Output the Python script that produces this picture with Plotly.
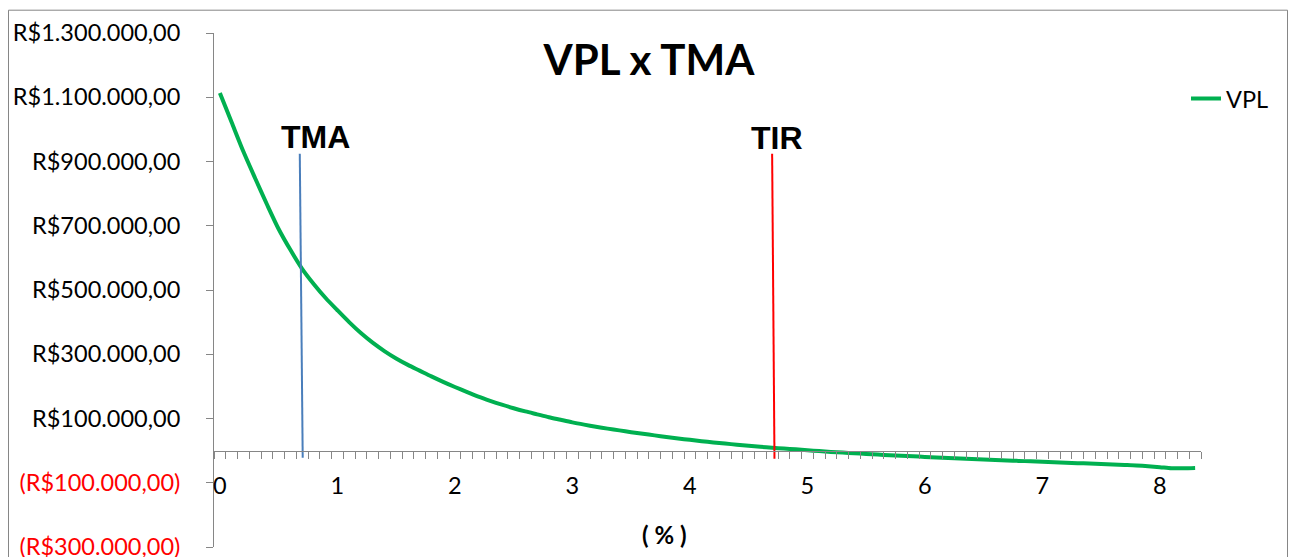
import plotly.graph_objects as go

# Taxa de desconto (% a.a.), passo de 0,1
taxa_pct = [round(i * 0.1, 1) for i in range(84)]

# VPL em R$ para cada taxa
vpl = [
    1113000, 1022000, 931000, 848000, 767000, 690000, 625000, 566000, 518000, 475000,
    437000, 400000, 366000, 336000, 310000, 287000, 267000, 249000, 231000, 214000,
    198000, 183000, 168000, 155000, 143000, 132000, 122000, 113000, 104000, 96000,
    88000, 81000, 74500, 68500, 63000, 57500, 52500, 47500, 42500, 38000,
    33500, 29500, 25500, 22000, 18500, 15000, 12000, 9000, 6500, 4000,
    1000, -1500, -4000, -6200, -8300, -10300, -12300, -14200, -16000, -17800,
    -19500, -21200, -22800, -24400, -26000, -27500, -29000, -30500, -32000, -33400,
    -34800, -36200, -37600, -39000, -40300, -41600, -43000, -44400, -46000, -48500,
    -51500, -55000, -55000, -54000,
]

# Marcadores verticais de TMA e TIR
tma_x = [0.68, 0.705]
tma_y = [924000, -22000]
tir_x = [4.70, 4.72]
tir_y = [924000, -25000]

x_ticks = list(range(9))
y_ticks = list(range(-300000, 1300001, 200000))
y_min, y_max = -300000, 1300000


def brl(v):
    s = f"{abs(v):,.2f}".replace(",", "#").replace(".", ",").replace("#", ".")
    if v < 0:
        return f'<span style="color:#FF0000">(R${s})</span>'
    return f"R${s}"


grey = "#868686"
font_main = "Lato"
tick_size = 23.5

fig = go.Figure()
fig.add_trace(go.Scatter(
    x=taxa_pct, y=vpl, mode="lines", name="VPL",
    line=dict(color="#00B050", width=4, shape="spline", smoothing=0.8),
))
fig.add_trace(go.Scatter(
    x=tma_x, y=tma_y, mode="lines", showlegend=False,
    line=dict(color="#4A7EBB", width=2),
))
fig.add_trace(go.Scatter(
    x=tir_x, y=tir_y, mode="lines", showlegend=False,
    line=dict(color="#FF0000", width=2),
))

# divisões entre categorias no eixo X
boundaries = [t - 0.05 for t in taxa_pct] + [taxa_pct[-1] + 0.05]

fig.update_layout(
    width=1294, height=557,
    margin=dict(l=214, r=93, t=33, b=10, autoexpand=False),
    paper_bgcolor="white", plot_bgcolor="white",
    font=dict(family=font_main, size=tick_size, color="black"),
    title=dict(
        text="<b>VPL x TMA</b>", x=0.5015, xanchor="center",
        y=1 - 60 / 557, yanchor="middle",
        font=dict(family=font_main, size=42, color="black"),
    ),
    xaxis=dict(
        range=[-0.05, 8.35], anchor="free", automargin=False,
        position=(0 - y_min) / (y_max - y_min),
        showline=True, linecolor=grey, linewidth=1,
        tickvals=x_ticks, ticktext=[str(t) for t in x_ticks],
        ticks="", ticklabelstandoff=14,
        minor=dict(tickvals=boundaries, ticks="outside", ticklen=7,
                   tickcolor=grey, tickwidth=1),
        showgrid=False, zeroline=False,
        tickfont=dict(family=font_main, size=tick_size, color="black"),
    ),
    yaxis=dict(
        range=[y_min, y_max], automargin=False,
        tickvals=y_ticks, ticktext=[brl(v) for v in y_ticks],
        ticks="outside", ticklen=7, tickcolor=grey, tickwidth=1,
        ticklabelstandoff=21, ticklabeloverflow="allow",
        showline=True, linecolor=grey, linewidth=1,
        showgrid=False, zeroline=False,
        tickfont=dict(family=font_main, size=tick_size, color="black"),
    ),
    legend=dict(
        x=(1186 - 214) / 987, xanchor="left",
        y=(547.3 - 99) / 514, yanchor="middle",
        bgcolor="rgba(0,0,0,0)",
        font=dict(family=font_main, size=tick_size, color="black"),
    ),
    annotations=[
        dict(x=0.812, y=977000, xref="x", yref="y", text="<b>TMA</b>",
             showarrow=False, xanchor="center", yanchor="middle",
             font=dict(family="Liberation Sans", size=32, color="black")),
        dict(x=4.74, y=973000, xref="x", yref="y", text="<b>TIR</b>",
             showarrow=False, xanchor="center", yanchor="middle",
             font=dict(family="Liberation Sans", size=32, color="black")),
        dict(x=(664 - 214) / 987, y=(547.3 - 535) / 514, xref="paper", yref="paper",
             text="<b>( % )</b>", showarrow=False, xanchor="center", yanchor="middle",
             font=dict(family=font_main, size=24, color="black")),
    ],
    shapes=[
        dict(type="rect", xref="paper", yref="paper", layer="below",
             x0=(8.5 - 214) / 987, x1=(1287.5 - 214) / 987,
             y0=(547.3 - 570) / 514, y1=(547.3 - 10.5) / 514,
             line=dict(color=grey, width=1), fillcolor="rgba(0,0,0,0)"),
    ],
)

fig.write_html("out.html")
